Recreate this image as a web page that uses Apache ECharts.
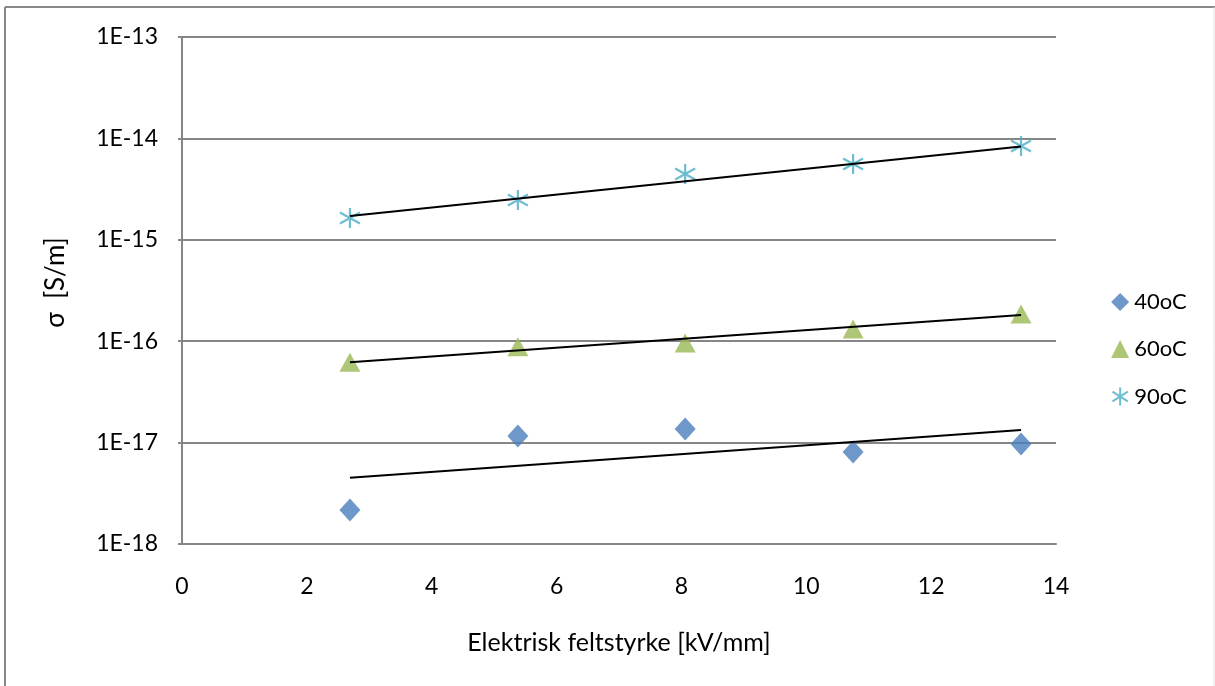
<!DOCTYPE html>
<html>
<head>
<meta charset="utf-8">
<script src="https://cdn.jsdelivr.net/npm/echarts@6/dist/echarts.min.js"></script>
<style>
html,body{margin:0;padding:0;background:#fff;}
#c{width:1215px;height:686px;}
</style>
</head>
<body>
<div id="c"></div>
<script>
const fieldStrength = [2.69, 5.38, 8.06, 10.75, 13.44];
const sigma40 = [2.16e-18, 1.16e-17, 1.36e-17, 8.1e-18, 9.7e-18];
const sigma60 = [6.2e-17, 8.8e-17, 9.6e-17, 1.32e-16, 1.85e-16];
const sigma90 = [1.64e-15, 2.47e-15, 4.45e-15, 5.6e-15, 8.4e-15];
const trendX = [2.69, 13.44];
const trend40 = [4.5e-18, 1.33e-17];
const trend60 = [6.2e-17, 1.81e-16];
const trend90 = [1.72e-15, 8.3e-15];
const seriesNames = ['40oC', '60oC', '90oC'];
const xTicks = [0, 2, 4, 6, 8, 10, 12, 14];

const FONT = 'Lato';
const pairs = (xs, ys) => xs.map((x, i) => [x, ys[i]]);
const starPath = 'path://M10,0L10,20M1.5,4.5L18.5,15.5M1.5,15.5L18.5,4.5';

const chart = echarts.init(document.getElementById('c'), null, {renderer: 'canvas'});
chart.setOption({
  animation: false,
  backgroundColor: '#fff',
  textStyle: {fontFamily: FONT},
  grid: {left: 182, right: 159, top: 37, bottom: 142},
  legend: {
    orient: 'vertical',
    left: 1105, top: 286,
    itemWidth: 18, itemHeight: 18, itemGap: 25,
    data: seriesNames,
    textStyle: {fontFamily: FONT, fontSize: 22, lineHeight: 22, color: '#000'}
  },
  xAxis: {
    type: 'value', min: xTicks[0], max: xTicks[xTicks.length - 1], interval: 2,
    name: 'Elektrisk feltstyrke [kV/mm]', nameLocation: 'middle', nameGap: 86,
    nameTextStyle: {fontFamily: FONT, fontSize: 25, color: '#000'},
    axisLine: {lineStyle: {color: '#868686', width: 2}},
    axisTick: {show: false},
    axisLabel: {fontFamily: FONT, fontSize: 23, color: '#000', margin: 31},
    splitLine: {show: false}
  },
  yAxis: {
    type: 'log', logBase: 10, min: 1e-18, max: 1e-13,
    name: 'σ  [S/m]', nameLocation: 'middle', nameGap: 113,
    nameTextStyle: {fontFamily: FONT, fontSize: 26, color: '#000', padding: [0, 0, 0, 16]},
    axisLine: {show: true, lineStyle: {color: '#868686', width: 2}},
    axisTick: {show: true, length: 4, lineStyle: {color: '#868686', width: 2}},
    axisLabel: {fontFamily: FONT, fontSize: 23, color: '#000', margin: 24,
      formatter: v => '1E' + Math.round(Math.log10(v))},
    splitLine: {show: true, lineStyle: {color: '#868686', width: 2}}
  },
  series: [
    {name: seriesNames[0], type: 'scatter', data: pairs(fieldStrength, sigma40),
     symbol: 'diamond', symbolSize: [21, 23], itemStyle: {color: '#4a7ebb'}, z: 3},
    {name: seriesNames[1], type: 'scatter', data: pairs(fieldStrength, sigma60),
     symbol: 'triangle', symbolSize: [21, 19], itemStyle: {color: '#98b954'}, z: 3},
    {name: seriesNames[2], type: 'scatter', data: pairs(fieldStrength, sigma90),
     symbol: starPath, symbolSize: [20, 20],
     itemStyle: {color: 'none', borderColor: '#4bacc6', borderWidth: 2.2}, z: 3},
    {name: 't40', type: 'line', data: pairs(trendX, trend40), symbol: 'none',
     lineStyle: {color: '#000', width: 2}, z: 4},
    {name: 't60', type: 'line', data: pairs(trendX, trend60), symbol: 'none',
     lineStyle: {color: '#000', width: 2}, z: 4},
    {name: 't90', type: 'line', data: pairs(trendX, trend90), symbol: 'none',
     lineStyle: {color: '#000', width: 2}, z: 4}
  ],
  graphic: [
    {type: 'line', shape: {x1: 5, y1: 7, x2: 1215, y2: 7}, style: {stroke: '#888', lineWidth: 2}},
    {type: 'line', shape: {x1: 5, y1: 7, x2: 5, y2: 686}, style: {stroke: '#888', lineWidth: 2}},
    {type: 'line', shape: {x1: 1214, y1: 7, x2: 1214, y2: 686}, style: {stroke: '#e4e4e4', lineWidth: 1}}
  ]
});
</script>
</body>
</html>
